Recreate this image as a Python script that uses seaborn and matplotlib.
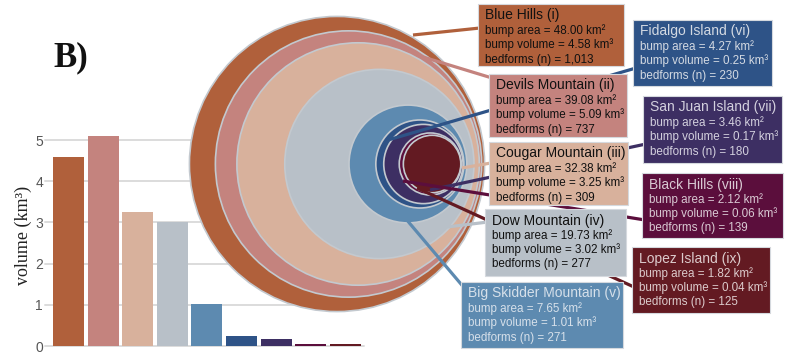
import matplotlib
matplotlib.use("Agg")
import matplotlib.pyplot as plt
from matplotlib.patches import Circle, Rectangle
import numpy as np
import pandas as pd
import seaborn as sns

# ---- data -----------------------------------------------------------------
sites = ["Blue Hills", "Devils Mountain", "Cougar Mountain", "Dow Mountain",
         "Big Skidder Mountain", "Fidalgo Island", "San Juan Island",
         "Black Hills", "Lopez Island"]
numerals = ["i", "ii", "iii", "iv", "v", "vi", "vii", "viii", "ix"]
bump_area = [48.00, 39.08, 32.38, 19.73, 7.65, 4.27, 3.46, 2.12, 1.82]      # km^2
bump_volume = [4.58, 5.09, 3.25, 3.02, 1.01, 0.25, 0.17, 0.06, 0.04]       # km^3
bedforms = [1013, 737, 309, 277, 271, 230, 180, 139, 125]
y_ticks = [0, 1, 2, 3, 4, 5]

# ---- styling ----------------------------------------------------------------
colors = ["#b0603b", "#c4837e", "#d8b19c", "#b8c0c8", "#5d8ab0",
          "#2e5387", "#3d2f63", "#5b0e3c", "#631a22"]
text_colors = ["#111111", "#111111", "#111111", "#111111", "#d6e0ea",
               "#d3d9e2", "#d3d0de", "#d9c9d3", "#dccbcc"]

# label boxes (x0, y0, x1, y1) and leader lines (x_start, y_start, x_end, y_end),
# in figure pixels measured from the top-left corner
boxes = [(478, 4, 624, 66), (489, 74, 627, 137), (489, 142, 628, 205),
         (485, 209, 626, 276), (461, 282, 623, 348), (633, 20, 772, 86),
         (643, 96, 782, 163), (642, 173, 783, 238), (632, 247, 770, 313)]
leaders = [(413, 35, 480, 28), (423, 57, 492, 78), (462, 168, 491, 163),
           (447, 227, 488, 222), (406, 219, 466, 290), (388, 140, 636, 68),
           (430, 190, 646, 144), (403, 181, 645, 220), (417, 188, 634, 287)]

W, H = 787, 355
sns.set_theme(style="white")
plt.rcParams["font.family"] = ["Liberation Sans", "DejaVu Sans"]
SERIF = ["Liberation Serif", "DejaVu Serif"]

fig = plt.figure(figsize=(W / 100, H / 100), dpi=100)

# ---- bar chart of bump volume ------------------------------------------------
pitch = 34.6
x_lo, x_hi = -0.68, 8.55
ax_left, ax_bottom = 45, H - 346
ax_w = (x_hi - x_lo) * pitch
y_top = 5.2
ax_h = y_top * 41.2
ax = fig.add_axes([ax_left / W, ax_bottom / H, ax_w / W, ax_h / H])

df = pd.DataFrame({"site": sites, "volume": bump_volume})
sns.barplot(data=df, x="site", y="volume", hue="site", order=sites,
            hue_order=sites, palette=colors, saturation=1, width=0.9,
            legend=False, ax=ax, linewidth=0, zorder=2)
ax.set_xlim(x_lo, x_hi)
ax.set_ylim(0, y_top)
ax.set_yticks(y_ticks)
ax.set_yticklabels([str(t) for t in y_ticks], color="#555555", fontsize=10)
ax.set_xticks([])
ax.set_xlabel("")
ax.set_ylabel("")
for t in y_ticks:
    ax.axhline(t, color="#dcdcdc", lw=1.4, zorder=1, clip_on=False)
for s in ax.spines.values():
    s.set_visible(False)
ax.tick_params(axis="y", length=0, pad=1.5)
ax.patch.set_alpha(0)

fig.text(23 / W, 1 - 235 / H, "volume (km³)", family=SERIF, fontsize=13,
         color="#222222", rotation=90, ha="center", va="center")
fig.text(53 / W, 1 - 66 / H, "B)", family=SERIF,
         fontsize=25, fontweight="bold", color="#111111", va="baseline")

# ---- nested circles of bump area --------------------------------------------
ov = fig.add_axes([0, 0, 1, 1])
ov.set_xlim(0, W)
ov.set_ylim(H, 0)
ov.axis("off")
ov.patch.set_alpha(0)

k = 21.3
radii = [k * np.sqrt(a) for a in bump_area]
r0 = radii[0]
cx0, cy0 = 337, 164
for i, (r, c) in enumerate(zip(radii, colors)):
    cx = cx0 + 0.8 * (r0 - r)
    ov.add_patch(Circle((cx, cy0), r, facecolor=c, edgecolor="#c3c9cf",
                        lw=1.2, zorder=1 + i * 0.01))

for (xs, ys, xe, ye), c in zip(leaders, colors):
    ov.plot([xs, xe], [ys, ye], color=c, lw=2.3, solid_capstyle="butt", zorder=3)

for i, ((x0, y0, x1, y1), c, tc) in enumerate(zip(boxes, colors, text_colors)):
    ov.add_patch(Rectangle((x0, y0), x1 - x0, y1 - y0, facecolor=c,
                           edgecolor="#d5d9de", lw=0.8, zorder=4))
    lines = [
        f"bump area = {bump_area[i]:.2f} km²",
        f"bump volume = {bump_volume[i]:.2f} km³",
        f"bedforms (n) = {bedforms[i]:,}",
    ]
    ov.text(x0 + 7, y0 + 11.5, f"{sites[i]} ({numerals[i]})", color=tc,
            fontsize=10, va="center", ha="left", zorder=5)
    for j, ln in enumerate(lines):
        ov.text(x0 + 7, y0 + 26.5 + 14.5 * j, ln, color=tc, fontsize=8.4,
                va="center", ha="left", zorder=5)

fig.savefig("out.png", dpi=100)
